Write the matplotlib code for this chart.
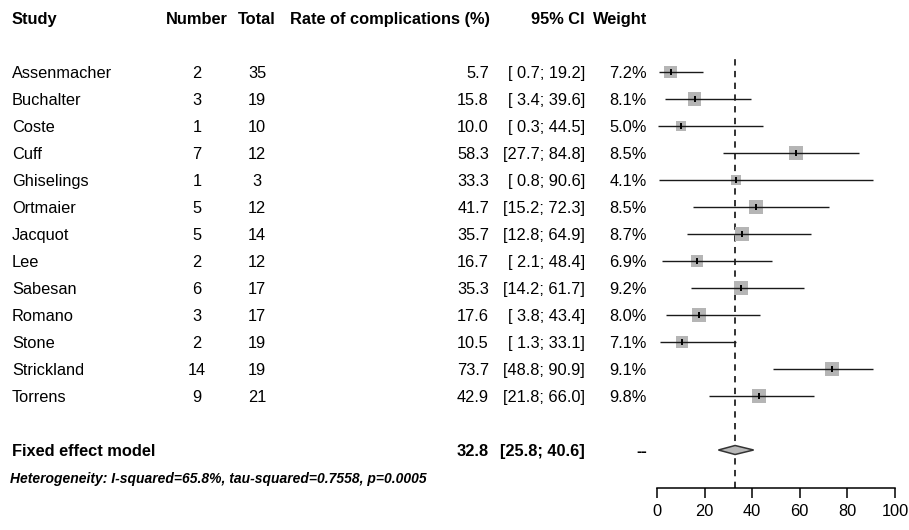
import numpy as np
import matplotlib
matplotlib.use("Agg")
import matplotlib.pyplot as plt
from matplotlib.patches import Polygon

plt.rcParams['font.family'] = ['Liberation Sans', 'DejaVu Sans']

studies = ['Assenmacher', 'Buchalter', 'Coste', 'Cuff', 'Ghiselings', 'Ortmaier',
           'Jacquot', 'Lee', 'Sabesan', 'Romano', 'Stone', 'Strickland', 'Torrens']
events = [2, 3, 1, 7, 1, 5, 5, 2, 6, 3, 2, 14, 9]
totals = [35, 19, 10, 12, 3, 12, 14, 12, 17, 17, 19, 19, 21]
rates = [5.7, 15.8, 10.0, 58.3, 33.3, 41.7, 35.7, 16.7, 35.3, 17.6, 10.5, 73.7, 42.9]
lower = [0.7, 3.4, 0.3, 27.7, 0.8, 15.2, 12.8, 2.1, 14.2, 3.8, 1.3, 48.8, 21.8]
upper = [19.2, 39.6, 44.5, 84.8, 90.6, 72.3, 64.9, 48.4, 61.7, 43.4, 33.1, 90.9, 66.0]
weights = [7.2, 8.1, 5.0, 8.5, 4.1, 8.5, 8.7, 6.9, 9.2, 8.0, 7.1, 9.1, 9.8]
fixed_est, fixed_lo, fixed_hi = 32.8, 25.8, 40.6
het_text = 'Heterogeneity: I-squared=65.8%, tau-squared=0.7558, p=0.0005'
xticks = [0, 20, 40, 60, 80, 100]

W, H = 909, 530
row0, step = 72, 27      # pixel y of first study row, row spacing
fixed_row = len(studies) + 1
fs = 11.8
dy = 0.07                # nudge text down so it lines up with the marks

fig = plt.figure(figsize=(W / 100, H / 100), dpi=100)

# text layer: x in pixels, y in row units
tax = fig.add_axes([0, 0, 1, 1])
tax.set_xlim(0, W)
tax.set_ylim((H - row0) / step, -row0 / step)
tax.axis('off')

hdr = -2 + dy
tax.text(12, hdr, 'Study', fontsize=fs, fontweight='bold', va='center')
tax.text(197, hdr, 'Number', fontsize=fs, fontweight='bold', va='center', ha='center')
tax.text(257, hdr, 'Total', fontsize=fs, fontweight='bold', va='center', ha='center')
tax.text(490, hdr, 'Rate of complications (%)', fontsize=fs, fontweight='bold', va='center', ha='right')
tax.text(585, hdr, '95% CI', fontsize=fs, fontweight='bold', va='center', ha='right')
tax.text(593, hdr, 'Weight', fontsize=fs, fontweight='bold', va='center', ha='left')

for i, name in enumerate(studies):
    y = i + dy
    tax.text(12, y, name, fontsize=fs, va='center')
    tax.text(197, y, str(events[i]), fontsize=fs, va='center', ha='center')
    tax.text(257, y, str(totals[i]), fontsize=fs, va='center', ha='center')
    tax.text(489, y, '%.1f' % rates[i], fontsize=fs, va='center', ha='right')
    tax.text(585, y, '[%4.1f; %4.1f]' % (lower[i], upper[i]), fontsize=fs, va='center', ha='right')
    tax.text(647, y, '%.1f%%' % weights[i], fontsize=fs, va='center', ha='right')

yf = fixed_row + dy
tax.text(12, yf, 'Fixed effect model', fontsize=fs, fontweight='bold', va='center')
tax.text(489, yf, '%.1f' % fixed_est, fontsize=fs, fontweight='bold', va='center', ha='right')
tax.text(585, yf, '[%4.1f; %4.1f]' % (fixed_lo, fixed_hi), fontsize=fs, fontweight='bold',
         va='center', ha='right')
tax.text(647, yf, '--', fontsize=fs, fontweight='bold', va='center', ha='right')
tax.text(10, yf + 1, het_text, fontsize=10, fontweight='bold', style='italic', va='center')

# forest panel: 0..100 -> px 657..895, bottom spine at px 488
x0, x1 = 657, 895
ytop, ybot = 50, 488
ax = fig.add_axes([x0 / W, 1 - ybot / H, (x1 - x0) / W, (ybot - ytop) / H])
ax.set_xlim(0, 100)
ax.set_ylim((ybot - row0) / step, (ytop - row0) / step)
ax.patch.set_visible(False)
for s in ['top', 'right', 'left']:
    ax.spines[s].set_visible(False)
ax.spines['bottom'].set_linewidth(1.1)
ax.set_yticks([])
ax.set_xticks(xticks)
ax.tick_params(axis='x', length=7.2, width=1.1, pad=4, labelsize=fs)

ypos = np.arange(len(studies))
side_px = 4.7 * np.sqrt(weights)
ax.scatter(rates, ypos, marker='s', s=(side_px * 0.72) ** 2, color='#b5b5b5',
           linewidths=0, zorder=2)
ax.hlines(ypos, lower, upper, color='#1a1a1a', lw=1.0, zorder=3)
ax.plot(rates, ypos, linestyle='none', marker='|', ms=5, mew=1.4, color='black', zorder=4)

ax.axvline(fixed_est, ymin=0, ymax=(ybot - 58) / (ybot - ytop), color='#222222', lw=1.3,
           linestyle=(0, (3.5, 3)), zorder=1)

hh = 4.5 / step
diamond = Polygon([(fixed_lo, fixed_row), (fixed_est, fixed_row - hh),
                   (fixed_hi, fixed_row), (fixed_est, fixed_row + hh)],
                  closed=True, facecolor='#b8b8b8', edgecolor='#333333', lw=1.1, zorder=3)
ax.add_patch(diamond)

fig.savefig('out.png', dpi=100)
